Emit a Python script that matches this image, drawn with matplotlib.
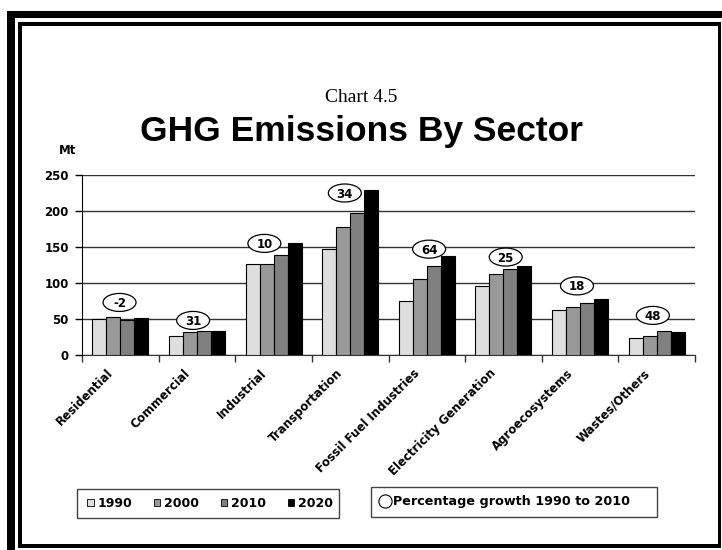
import matplotlib
matplotlib.use("Agg")
import matplotlib.pyplot as plt
from matplotlib.patches import Rectangle, Ellipse
from matplotlib.lines import Line2D
from matplotlib.transforms import blended_transform_factory

# ---- data -------------------------------------------------------------
sectors = ["Residential", "Commercial", "Industrial", "Transportation",
           "Fossil Fuel Industries", "Electricity Generation",
           "Agroecosystems", "Wastes/Others"]
years = ["1990", "2000", "2010", "2020"]
emissions_1990 = [50, 26, 126, 147, 75, 96, 62, 23]
emissions_2000 = [53, 32, 126, 178, 106, 112, 66, 26]
emissions_2010 = [49, 34, 139, 197, 123, 119, 72, 34]
emissions_2020 = [52, 34, 156, 229, 138, 124, 78, 32]
growth_labels = ["-2", "31", "10", "34", "64", "25", "18", "48"]
y_ticks = [0, 50, 100, 150, 200, 250]

# ---- layout -----------------------------------------------------------
series = [emissions_1990, emissions_2000, emissions_2010, emissions_2020]
colors = ["#dedede", "#999999", "#808080", "#000000"]
bubble_y = [73, 48, 155, 225, 147, 136, 96, 55]
bubble_dx = [-0.01, -0.05, -0.12, -0.07, 0.03, 0.03, -0.04, -0.05]
SMALL = {"family": "DejaVu Sans", "weight": "bold"}

W, H = 722, 550
fig = plt.figure(figsize=(W / 100, H / 100), dpi=100)
fig.patch.set_facecolor("white")

def px_rect(x0, y0, x1, y1, **kw):
    """Rectangle given in pixel coordinates measured from the top-left."""
    fig.add_artist(Rectangle((x0 / W, 1 - y1 / H), (x1 - x0) / W, (y1 - y0) / H,
                             transform=fig.transFigure, **kw))

# page frame: heavy outer L and thinner inner box
px_rect(7, 11, 722, 18, facecolor="black", edgecolor="none")
px_rect(7, 11, 15, 550, facecolor="black", edgecolor="none")
px_rect(18, 22, 721, 26, facecolor="black", edgecolor="none")
px_rect(18, 544, 721, 548, facecolor="black", edgecolor="none")
px_rect(18, 22, 22, 548, facecolor="black", edgecolor="none")
px_rect(718, 22, 721, 548, facecolor="black", edgecolor="none")

fig.text(0.5, 1 - 97 / H, "Chart 4.5", family="Liberation Serif",
         fontsize=14, ha="center", va="center")
fig.text(362 / W, 1 - 131 / H, "GHG Emissions By Sector", family="Liberation Sans",
         fontsize=25.5, fontweight="bold", ha="center", va="center")

ax = fig.add_axes([82 / W, 1 - 355 / H, (695 - 82) / W, 180 / H])
ax.set_facecolor("white")
n = len(sectors)
bw = 0.183
for k, (vals, col) in enumerate(zip(series, colors)):
    xs = [i + (k - 1.5) * bw for i in range(n)]
    ax.bar(xs, vals, width=bw, color=col, edgecolor="black", linewidth=0.8,
           label=years[k], zorder=3)

ax.set_xlim(-0.5, n - 0.5)
ax.set_ylim(0, 250)
ax.set_yticks(y_ticks)
ax.set_yticklabels([str(t) for t in y_ticks], fontsize=8.5, **SMALL)
ax.yaxis.grid(True, color="#333333", linewidth=1, zorder=0)
ax.tick_params(axis="y", length=5, width=1, pad=4.5, color="black")
ax.set_xticks([i - 0.5 for i in range(n + 1)])
ax.set_xticklabels([])
ax.tick_params(axis="x", length=5, width=1, direction="out", color="#333333")
for s in ("top", "right"):
    ax.spines[s].set_visible(False)
ax.spines["left"].set_color("black")
ax.spines["bottom"].set_color("#333333")
ax.spines["left"].set_zorder(4)

# category labels, slanted
tr = blended_transform_factory(ax.transData, ax.transAxes)
for i, name in enumerate(sectors):
    ax.text(i - 0.12, -0.09, name, transform=tr, rotation=45,
            rotation_mode="anchor", ha="right", va="center",
            fontsize=8.5, **SMALL)

# growth bubbles
for i, (lab, yv, dx) in enumerate(zip(growth_labels, bubble_y, bubble_dx)):
    ax.add_patch(Ellipse((i + dx, yv), 0.43, 25, facecolor="white",
                         edgecolor="black", linewidth=0.9, zorder=5))
    ax.text(i + dx, yv - 1.5, lab, ha="center", va="center", zorder=6,
            fontsize=8.5, **SMALL)

fig.text(68 / W, 1 - 151 / H, "Mt", fontsize=8.5, ha="center", va="center",
         **SMALL)

# legends, each inside its own drawn box
px_rect(77, 489, 339, 518, facecolor="white", edgecolor="#444444", linewidth=1)
px_rect(371, 487, 657, 517, facecolor="white", edgecolor="#444444", linewidth=1)

handles = [Rectangle((0, 0), 1, 1, facecolor=c, edgecolor="black", linewidth=0.6)
           for c in colors]
fig.legend(handles, years, ncol=4, loc="center",
           bbox_to_anchor=(210 / W, 1 - 503.5 / H),
           bbox_transform=fig.transFigure, frameon=False, borderaxespad=0,
           borderpad=0, handlelength=0.5, handleheight=0.5, handletextpad=0.3,
           columnspacing=1.75, prop={**SMALL, "size": 9})

circ = Line2D([], [], marker="o", linestyle="none", markersize=9.5,
              markerfacecolor="white", markeredgecolor="black", markeredgewidth=0.8)
fig.legend([circ], ["Percentage growth 1990 to 2010"], loc="center left",
           bbox_to_anchor=(380 / W, 1 - 502 / H),
           bbox_transform=fig.transFigure, frameon=False, borderaxespad=0,
           borderpad=0, handlelength=0.8, handletextpad=0.2,
           prop={**SMALL, "size": 9.2})

fig.savefig("out.png", dpi=100)
